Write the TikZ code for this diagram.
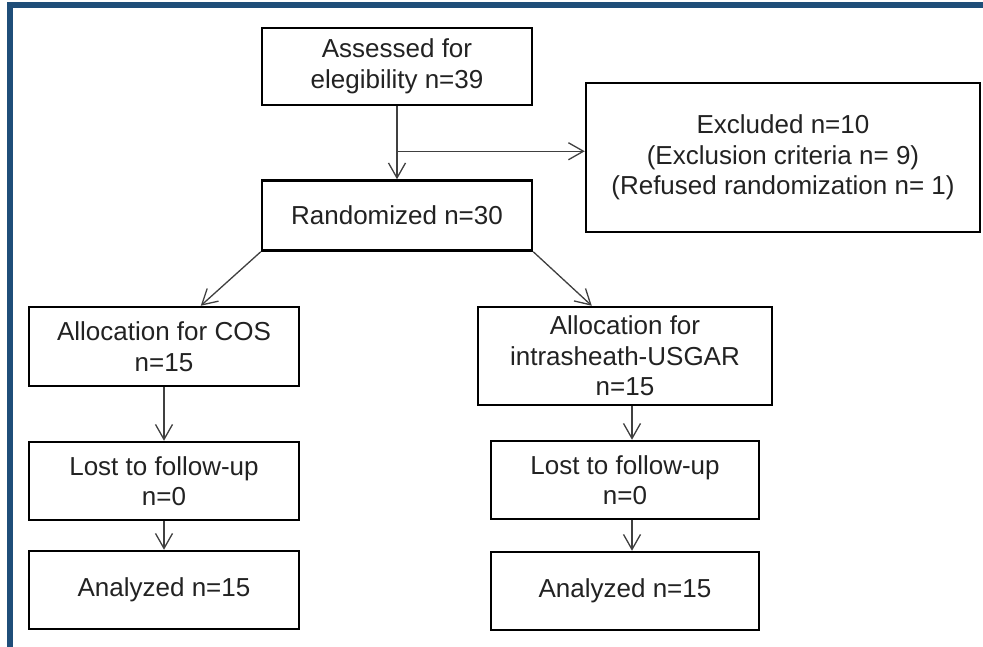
\documentclass[tikz,border=0pt]{standalone}
\usepackage{fontspec}
\setmainfont{Liberation Sans}
\usetikzlibrary{arrows.meta,calc}
\definecolor{frameblue}{HTML}{1F4E79}
\definecolor{txt}{HTML}{222222}
\definecolor{conn}{HTML}{404040}
\tikzset{
  box/.style={draw=black, line width=2.5pt, fill=white, inner sep=0pt, align=center,
    text=txt, font=\fontsize{26}{30.5}\selectfont},
  conn/.style={draw=conn, line width=1.3pt, -{Straight Barb[length=15pt,width=17pt,line width=1.3pt]}},
  plain/.style={draw=conn, line width=1.3pt}
}
\begin{document}
\begin{tikzpicture}[x=1pt,y=-1pt]
\useasboundingbox (0,0) rectangle (983,647);
\fill[white] (0,0) rectangle (983,647);
\fill[frameblue] (7,2) rectangle (983,8);
\fill[frameblue] (7,2) rectangle (13,647);

\node[box, minimum width=270pt, minimum height=77pt] (ax) at (397,66.5) {Assessed for\\elegibility n=39};
\node[box, minimum width=394pt, minimum height=149pt] (ex) at (783,157.5) {Excluded n=10\\(Exclusion criteria n= 9)\\(Refused randomization n= 1)};
\node[box, minimum width=270pt, minimum height=70pt] (ra) at (397,215.5) {Randomized n=30};
\node[box, minimum width=270pt, minimum height=79pt] (cos) at (164,346.5) {Allocation for COS\\n=15};
\node[box, minimum width=294pt, minimum height=98pt] (intra) at (625,356) {Allocation for\\intrasheath-USGAR\\n=15};
\node[box, minimum width=270pt, minimum height=78pt] (lostA) at (164,481) {Lost to follow-up\\n=0};
\node[box, minimum width=268pt, minimum height=78pt] (lostB) at (625,480) {Lost to follow-up\\n=0};
\node[box, minimum width=270pt, minimum height=78pt] (anA) at (164,590) {Analyzed n=15};
\node[box, minimum width=268pt, minimum height=78pt] (anB) at (625,591) {Analyzed n=15};

\coordinate (br) at ($(ax.south)+(0,45)$);
\draw[conn] (ax.south) -- (ra.north);
\draw[conn] (br) -- (br -| ex.west);
\draw[conn] (ra.south west) -- ($(cos.north west)+(173,0)$);
\draw[conn] (ra.south east) -- ($(intra.north west)+(115,0)$);
\draw[conn] (cos.south) -- (lostA.north);
\draw[conn] (lostA.south) -- (anA.north);
\draw[conn] ($(intra.south)+(7,0)$) -- ($(lostB.north)+(7,0)$);
\draw[conn] ($(lostB.south)+(7,0)$) -- ($(anB.north)+(7,0)$);
\end{tikzpicture}
\end{document}
